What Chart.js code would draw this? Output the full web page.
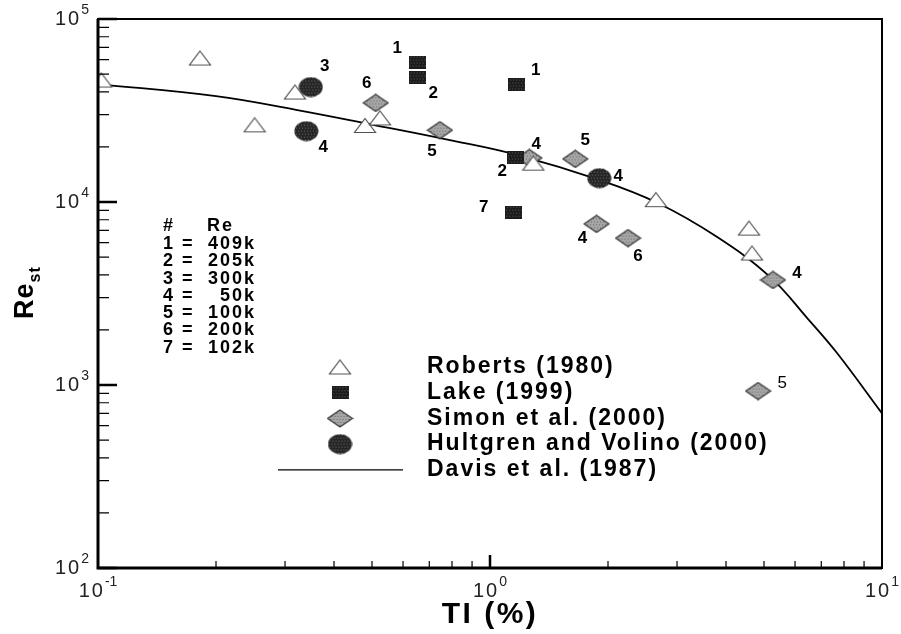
<!DOCTYPE html>
<html>
<head>
<meta charset="utf-8">
<script src="https://cdn.jsdelivr.net/npm/chart.js@4.4.1/dist/chart.umd.min.js"></script>
<style>
  html, body { margin: 0; padding: 0; background: #fff; }
</style>
</head>
<body>
<canvas id="chart" width="901" height="634"></canvas>
<script>
// values (TI in %, Re_st)
const robertsTI = [0.102, 0.182, 0.318, 0.251, 0.48, 0.524, 1.29, 2.65, 4.58, 4.66]
const robertsRe = [46400, 61200, 39900, 26400, 26200, 28800, 16300, 10300, 7200, 5260]

const lakeTI = [0.652, 0.652, 1.17, 1.16, 1.15]
const lakeRe = [58200, 47600, 43600, 17400, 8800]
const lakeTag = ['1', '2', '1', '2', '7']

const simonTI = [0.511, 0.745, 1.26, 1.65, 1.87, 2.25, 5.27, 4.83]
const simonRe = [34800, 24700, 17400, 17200, 7590, 6350, 3750, 927]
const simonTag = ['6', '5', '4', '5', '4', '6', '4', '5']

const hultTI = [0.349, 0.34, 1.9]
const hultRe = [42500, 24400, 13500]
const hultTag = ['3', '4', '4']

const davisTI = [0.1, 0.2, 0.32, 0.5, 0.79, 1.17, 1.9, 2.67, 3.79, 5.18, 6.47, 7.67, 10]
const davisRe = [44100, 37900, 31900, 26500, 21800, 18100, 13200, 9900, 6450, 3900, 2300, 1500, 700]

const seriesNames = ['Roberts (1980)', 'Lake (1999)', 'Simon et al. (2000)', 'Hultgren and Volino (2000)', 'Davis et al. (1987)']
const reTable = ['1 = 409k', '2 = 205k', '3 = 300k', '4 = 50k', '5 = 100k', '6 = 200k', '7 = 102k']

const yTicks = [100, 1000, 10000, 100000]
const yTickExp = ['2', '3', '4', '5']
const xTicks = [0.1, 1, 10]
const xTickExp = ['-1', '0', '1']
const minorSteps = [2, 3, 4, 5, 6, 7, 8, 9]

// label placement (pixel offsets from the marker)
const lakeTagPos = [[-20, -14], [16, 15], [19, -15], [-13, 13], [-30, -5]]
const simonTagPos = [[-9, -20], [-8, 21], [7, -14], [10, -19], [-14, 14], [10, 18], [24, -7], [24, -8]]
const hultTagPos = [[14, -21], [17, 16], [19, -2]]

const pts = (xs, ys) => xs.map((x, i) => ({ x, y: ys[i] }))

function marker(w, h, shape, fill, dots, stroke) {
  const c = document.createElement('canvas')
  c.width = w
  c.height = h
  const g = c.getContext('2d')
  shape(g, w, h)
  g.fillStyle = fill
  g.fill()
  if (dots) {
    g.save()
    g.clip()
    g.fillStyle = dots
    for (let y = 1; y < h; y += 3) {
      for (let x = (y % 2) + 1; x < w; x += 3) g.fillRect(x, y, 1, 1)
    }
    g.restore()
  }
  if (stroke) {
    shape(g, w, h)
    g.strokeStyle = stroke
    g.lineWidth = 1.2
    g.stroke()
  }
  return c
}

const triMark = marker(24, 17, (g, w, h) => {
  g.beginPath(); g.moveTo(w / 2, 1.5); g.lineTo(w - 1.5, h - 1.5); g.lineTo(1.5, h - 1.5); g.closePath()
}, '#fff', null, '#555')
const sqMark = marker(17, 13, (g, w, h) => {
  g.beginPath(); g.rect(0, 0, w, h)
}, '#1c1c1c', '#5c5c5c', null)
const diaMark = marker(27, 19, (g, w, h) => {
  g.beginPath(); g.moveTo(w / 2, 1); g.lineTo(w - 1, h / 2); g.lineTo(w / 2, h - 1); g.lineTo(1, h / 2); g.closePath()
}, '#a6a6a6', '#666', '#333')
const dotMark = marker(25, 21, (g, w, h) => {
  g.beginPath(); g.ellipse(w / 2, h / 2, w / 2 - 0.5, h / 2 - 0.5, 0, 0, Math.PI * 2)
}, '#262626', '#6a6a6a', null)

const FONT = '"Liberation Sans", Arial, Helvetica, sans-serif'

function powLabel(ctx, exp, x, y, align) {
  ctx.letterSpacing = '2px'
  ctx.font = '20px ' + FONT
  const wb = ctx.measureText('10').width
  ctx.letterSpacing = '0px'
  ctx.font = '14px ' + FONT
  const we = ctx.measureText(exp).width
  const total = wb + we
  let left = align === 'right' ? x - total : x - total / 2
  ctx.textAlign = 'left'
  ctx.textBaseline = 'middle'
  ctx.letterSpacing = '2px'
  ctx.font = '20px ' + FONT
  ctx.fillText('10', left, y)
  ctx.letterSpacing = '0px'
  ctx.font = '14px ' + FONT
  ctx.fillText(exp, left + wb, y - 9)
}

const decor = {
  id: 'decor',
  afterDatasetsDraw(chart) {
    const { ctx, chartArea: a, scales: { x, y } } = chart
    ctx.save()
    ctx.fillStyle = '#000'
    ctx.strokeStyle = '#000'

    // frame
    ctx.lineWidth = 2
    ctx.strokeRect(a.left, a.top, a.right - a.left, a.bottom - a.top)
    ctx.lineWidth = 3
    ctx.beginPath()
    ctx.moveTo(a.left, a.top); ctx.lineTo(a.left, a.bottom); ctx.lineTo(a.right, a.bottom)
    ctx.stroke()

    // inward ticks
    ctx.lineWidth = 1.2
    ctx.beginPath()
    yTicks.slice(0, -1).forEach(v => {
      minorSteps.forEach(m => {
        const py = y.getPixelForValue(v * m)
        ctx.moveTo(a.left, py); ctx.lineTo(a.left + 11, py)
      })
    })
    xTicks.slice(0, -1).forEach(v => {
      minorSteps.forEach(m => {
        const px = x.getPixelForValue(v * m)
        ctx.moveTo(px, a.bottom); ctx.lineTo(px, a.bottom - 7)
      })
    })
    ctx.stroke()
    ctx.lineWidth = 2.5
    ctx.beginPath()
    yTicks.forEach(v => {
      const py = y.getPixelForValue(v)
      ctx.moveTo(a.left, py); ctx.lineTo(a.left + 19, py)
    })
    const px1 = x.getPixelForValue(1)
    ctx.moveTo(px1, a.bottom); ctx.lineTo(px1, a.bottom - 13)
    ctx.stroke()

    // tick labels
    ctx.fillStyle = '#222'
    yTicks.forEach((v, i) => powLabel(ctx, yTickExp[i], a.left - 9, y.getPixelForValue(v), 'right'))
    xTicks.forEach((v, i) => powLabel(ctx, xTickExp[i], x.getPixelForValue(v), a.bottom + 23, 'center'))

    // axis titles
    ctx.fillStyle = '#000'
    ctx.font = 'bold 30px ' + FONT
    ctx.letterSpacing = '2.5px'
    ctx.textAlign = 'center'
    ctx.textBaseline = 'alphabetic'
    ctx.fillText('TI (%)', 490, 623)
    ctx.letterSpacing = '1px'
    ctx.save()
    ctx.translate(33, 319)
    ctx.rotate(-Math.PI / 2)
    ctx.textAlign = 'left'
    ctx.font = 'bold 27px ' + FONT
    ctx.fillText('Re', 0, 0)
    const wRe = ctx.measureText('Re').width
    ctx.font = 'bold 16px ' + FONT
    ctx.fillText('st', wRe, 7)
    ctx.restore()

    // point tags
    ctx.letterSpacing = '0px'
    ctx.textAlign = 'center'
    ctx.textBaseline = 'middle'
    const tags = (xs, ys, tg, pos) => tg.forEach((t, i) => {
      const small = ys[i] < 2000
      ctx.font = (small ? '' : 'bold ') + '17px ' + FONT
      ctx.fillText(t, x.getPixelForValue(xs[i]) + pos[i][0], y.getPixelForValue(ys[i]) + pos[i][1])
    })
    tags(lakeTI, lakeRe, lakeTag, lakeTagPos)
    tags(simonTI, simonRe, simonTag, simonTagPos)
    tags(hultTI, hultRe, hultTag, hultTagPos)

    // Re table
    ctx.font = 'bold 18px ' + FONT
    ctx.letterSpacing = '2px'
    ctx.textAlign = 'left'
    ctx.fillText('#', 163, 226)
    ctx.fillText('Re', 207, 226)
    reTable.forEach((row, i) => {
      const [k, val] = row.split('=')
      const ry = 244 + i * 17.3
      ctx.textAlign = 'left'
      ctx.fillText(k + '=', 163, ry)
      ctx.textAlign = 'right'
      ctx.fillText(val.trim(), 256, ry)
    })

    // legend
    const marks = [triMark, sqMark, diaMark, dotMark]
    ctx.font = 'bold 23px ' + FONT
    ctx.letterSpacing = '2px'
    ctx.textAlign = 'left'
    seriesNames.forEach((name, i) => {
      const ly = 367 + i * 25.7
      if (i < 4) {
        const m = marks[i]
        ctx.drawImage(m, 340 - m.width / 2, ly - m.height / 2)
      } else {
        ctx.lineWidth = 1.2
        ctx.beginPath(); ctx.moveTo(278, ly); ctx.lineTo(403, ly); ctx.stroke()
      }
      ctx.fillText(name, 427, ly)
    })
    ctx.restore()
  }
}

new Chart(document.getElementById('chart'), {
  type: 'scatter',
  data: {
    datasets: [
      { data: pts(davisTI, davisRe), showLine: true, borderColor: '#000', borderWidth: 1.8, pointRadius: 0, tension: 0.4, order: 5 },
      { data: pts(robertsTI, robertsRe), pointStyle: triMark, order: 1 },
      { data: pts(lakeTI, lakeRe), pointStyle: sqMark, order: 1 },
      { data: pts(simonTI, simonRe), pointStyle: diaMark, order: 1 },
      { data: pts(hultTI, hultRe), pointStyle: dotMark, order: 1 },
    ],
  },
  options: {
    responsive: false,
    animation: false,
    devicePixelRatio: 1,
    layout: { padding: { left: 98, top: 19, right: 19, bottom: 66 } },
    plugins: { legend: { display: false }, tooltip: { enabled: false } },
    scales: {
      x: {
        type: 'logarithmic', min: 0.1, max: 10,
        ticks: { display: false }, grid: { display: false, drawTicks: false }, border: { display: false },
      },
      y: {
        type: 'logarithmic', min: 100, max: 100000,
        ticks: { display: false }, grid: { display: false, drawTicks: false }, border: { display: false },
      },
    },
  },
  plugins: [decor],
})
</script>
</body>
</html>
